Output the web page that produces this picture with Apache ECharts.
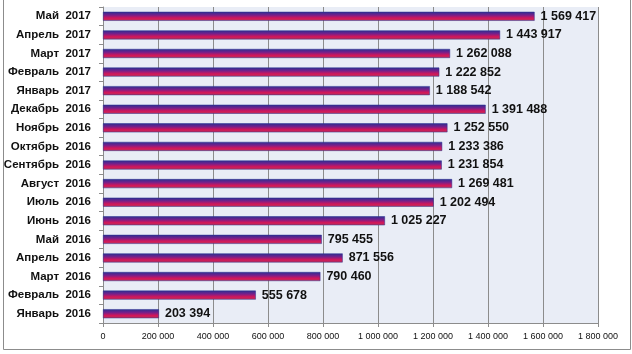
<!DOCTYPE html>
<html lang="ru">
<head>
    <meta charset="UTF-8">
    <title>Помесячная статистика</title>
    <script src="https://cdn.jsdelivr.net/npm/echarts@6/dist/echarts.min.js"></script>
    <style>
        html, body { margin: 0; padding: 0; background: #fff; }
    </style>
</head>
<body>
<div id="main" style="width: 632px;height:354px;"></div>
<script type="text/javascript">
    // месяцы снизу вверх (категориальная ось Y идёт снизу)
    var months = ['Январь  2016', 'Февраль  2016', 'Март  2016', 'Апрель  2016', 'Май  2016', 'Июнь  2016',
        'Июль  2016', 'Август  2016', 'Сентябрь  2016', 'Октябрь  2016', 'Ноябрь  2016', 'Декабрь  2016',
        'Январь  2017', 'Февраль  2017', 'Март  2017', 'Апрель  2017', 'Май  2017'];
    var counts = [203394, 555678, 790460, 871556, 795455, 1025227,
        1202494, 1269481, 1231854, 1233386, 1252550, 1391488,
        1188542, 1222852, 1262088, 1443917, 1569417];
    var xTicks = [0, 200000, 400000, 600000, 800000, 1000000, 1200000, 1400000, 1600000, 1800000];

    function fmt(v) {
        return String(v).replace(/\B(?=(\d{3})+(?!\d))/g, ' ');
    }

    var myChart = echarts.init(document.getElementById('main'));

    var option = {
        animation: false,
        grid: {
            left: 103, right: 34, top: 7, bottom: 31,
            show: true,
            backgroundColor: '#e9edf6',
            borderWidth: 0
        },
        graphic: [{
            type: 'rect',
            shape: { x: 3.5, y: -2, width: 627, height: 351.5 },
            style: { fill: 'none', stroke: '#8c8c8c', lineWidth: 1 },
            silent: true
        }],
        xAxis: {
            type: 'value',
            min: xTicks[0],
            max: xTicks[xTicks.length - 1],
            interval: 200000,
            axisLine: { show: true, lineStyle: { color: '#8c8c8c' } },
            axisTick: { show: true, length: 4, lineStyle: { color: '#8c8c8c' } },
            splitLine: { show: true, lineStyle: { color: '#8c8c8c', width: 1 } },
            axisLabel: {
                color: '#111',
                fontFamily: 'Liberation Sans',
                fontSize: 9,
                margin: 9,
                formatter: function (v) { return fmt(v); }
            }
        },
        yAxis: {
            type: 'category',
            data: months,
            axisLine: { show: true, lineStyle: { color: '#8c8c8c' } },
            axisTick: { show: true, length: 4, lineStyle: { color: '#8c8c8c' } },
            splitLine: { show: false },
            axisLabel: {
                color: '#111',
                fontFamily: 'Liberation Sans',
                fontWeight: 'bold',
                fontSize: 11.5,
                margin: 12
            }
        },
        series: [{
            type: 'bar',
            data: counts,
            barWidth: 9,
            itemStyle: {
                color: new echarts.graphic.LinearGradient(0, 0, 0, 1, [
                    { offset: 0, color: '#2b3090' },
                    { offset: 0.35, color: '#72208c' },
                    { offset: 0.7, color: '#d3165a' },
                    { offset: 1, color: '#b8345a' }
                ]),
                borderColor: '#2b3090',
                borderWidth: 0.5
            },
            label: {
                show: true,
                position: 'right',
                distance: 6,
                color: '#111',
                fontFamily: 'Liberation Sans',
                fontWeight: 'bold',
                fontSize: 12.5,
                formatter: function (p) { return fmt(p.value); }
            }
        }]
    };

    myChart.setOption(option);
</script>
</body>
</html>
